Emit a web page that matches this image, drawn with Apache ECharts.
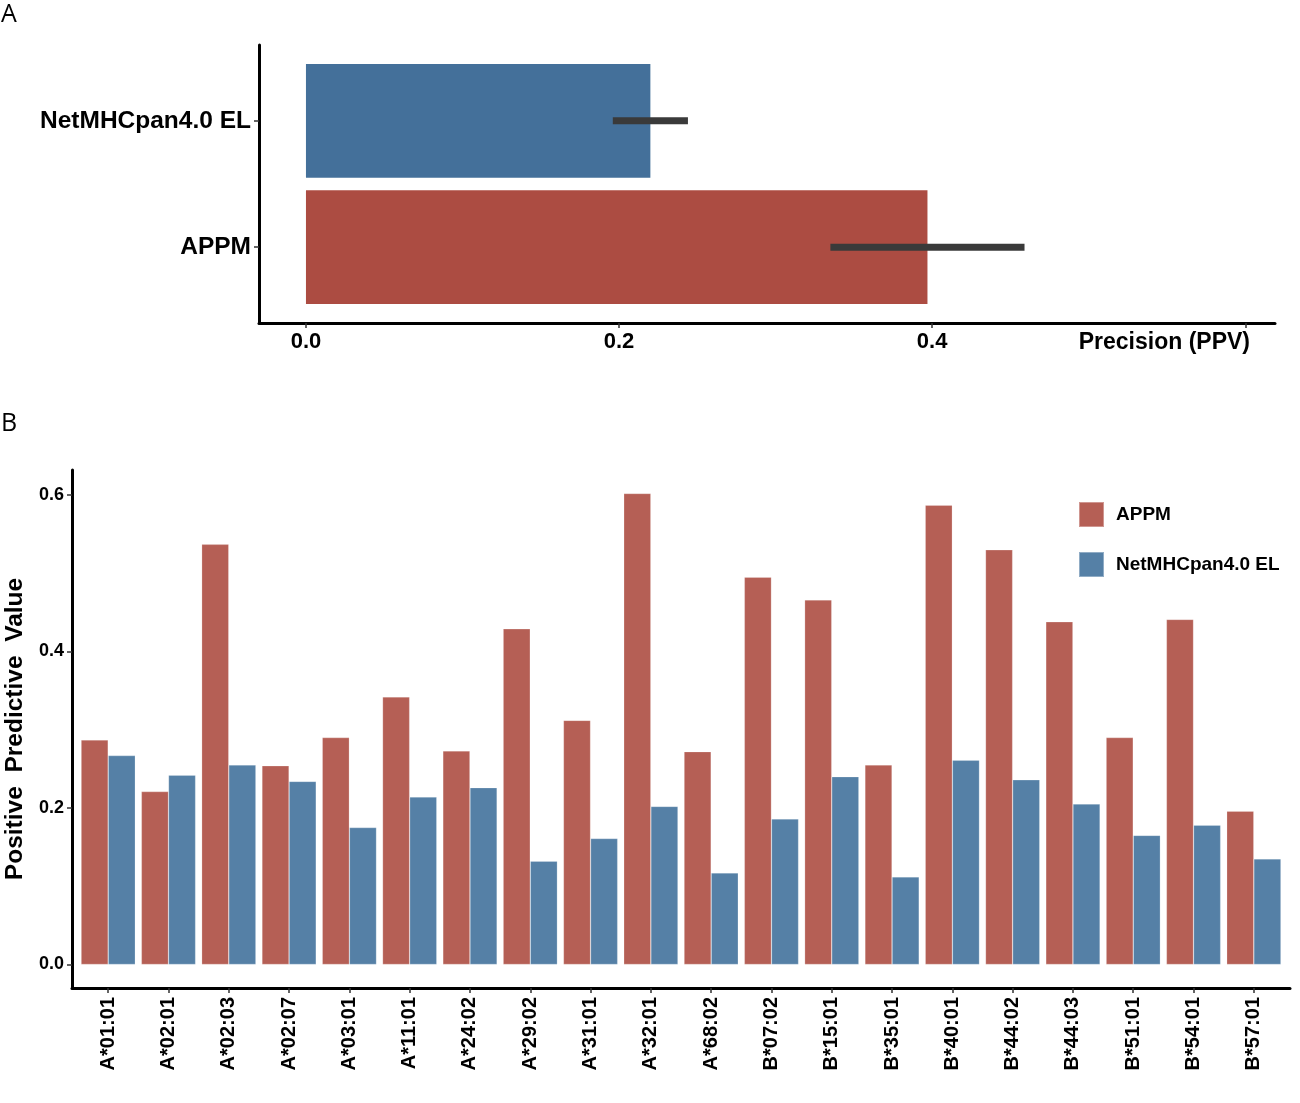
<!DOCTYPE html>
<html>
<head>
<meta charset="utf-8">
<script src="https://cdn.jsdelivr.net/npm/echarts@6/dist/echarts.min.js"></script>
<style>
html,body{margin:0;padding:0;background:#fff;}
#chart{width:1300px;height:1103px;}
</style>
</head>
<body>
<div id="chart"></div>
<script>
// ---------- Panel A data ----------
var methods = ['APPM', 'NetMHCpan4.0 EL'];
var precision = [0.397, 0.220];
var errLow = [0.335, 0.196];
var errHigh = [0.459, 0.244];
var precisionTicks = [0, 0.2, 0.4, 0.6];
var precisionLabels = [0, 0.2, 0.4];

// ---------- Panel B data ----------
var alleles = ['A*01:01','A*02:01','A*02:03','A*02:07','A*03:01','A*11:01','A*24:02','A*29:02','A*31:01','A*32:01',
               'A*68:02','B*07:02','B*15:01','B*35:01','B*40:01','B*44:02','B*44:03','B*51:01','B*54:01','B*57:01'];
var appmPPV = [0.287,0.221,0.537,0.254,0.290,0.342,0.273,0.429,0.312,0.602,
               0.272,0.495,0.466,0.255,0.587,0.530,0.438,0.290,0.441,0.196];
var netPPV  = [0.267,0.242,0.255,0.234,0.175,0.214,0.226,0.132,0.161,0.202,
               0.117,0.186,0.240,0.112,0.261,0.236,0.205,0.165,0.178,0.135];
var ppvTicks = [0, 0.2, 0.4, 0.6];

var FONT = "'Liberation Sans', Arial, Helvetica, sans-serif";
var colorsA = ['#AC4C42', '#44709A'];
var colorAPPM = '#B55F55';
var colorNet = '#5580A6';
var axisLineStyle = {show: true, onZero: false, lineStyle: {color: '#000', width: 3}};
var tickStyle = {color: '#333', width: 1.5};

var methodPos = methods.map(function (m, i) { return i + 1; });
var allelePos = alleles.map(function (a, i) { return i + 1; });

var chart = echarts.init(document.getElementById('chart'), null, {renderer: 'canvas'});
var option = {
  animation: false,
  backgroundColor: '#fff',
  title: [
    {text: 'A', left: 0, top: 2, padding: [0, 0, 0, 1], textStyle: {fontFamily: "'Open Sans', 'DejaVu Sans', sans-serif", fontWeight: 'normal', fontSize: 25, color: '#000'}},
    {text: 'B', left: 0, top: 411, padding: [0, 0, 0, 1], textStyle: {fontFamily: "'Open Sans', 'DejaVu Sans', sans-serif", fontWeight: 'normal', fontSize: 25, color: '#000'}}
  ],
  grid: [
    {left: 259, top: 45, width: 1016, height: 278, outerBoundsMode: 'none', containLabel: false},
    {left: 72, top: 470, width: 1218, height: 518, outerBoundsMode: 'none', containLabel: false}
  ],
  legend: {
    orient: 'vertical', left: 1078, top: 501, padding: 0,
    itemWidth: 25, itemHeight: 25, itemGap: 23,
    icon: 'rect',
    data: ['APPM', 'NetMHCpan4.0 EL'],
    textStyle: {fontFamily: FONT, fontWeight: 'bold', fontSize: 19, color: '#000', padding: [0, 0, 0, 7]}
  },
  xAxis: [
    {
      gridIndex: 0, type: 'value', min: -0.030, max: 0.619,
      axisLine: axisLineStyle,
      axisTick: {show: true, length: 5, customValues: precisionTicks, lineStyle: tickStyle},
      axisLabel: {customValues: precisionLabels, margin: 8, fontFamily: FONT, fontWeight: 'bold', fontSize: 22, color: '#000',
                  formatter: function (v) { return v.toFixed(1); }},
      splitLine: {show: false},
      name: 'Precision (PPV)', nameLocation: 'end', nameGap: -25, nameMoveOverlap: false,
      nameTextStyle: {fontFamily: FONT, fontWeight: 'bold', fontSize: 23, color: '#000', align: 'right', verticalAlign: 'top', padding: [8, 0, 0, 0]}
    },
    {
      gridIndex: 1, type: 'value', min: 0.4, max: 20.6,
      axisLine: axisLineStyle,
      axisTick: {show: true, length: 5, customValues: allelePos, lineStyle: tickStyle},
      axisLabel: {customValues: allelePos, rotate: 90, margin: 9, fontFamily: FONT, fontWeight: 'bold', fontSize: 20, color: '#000',
                  formatter: function (v) { return alleles[Math.round(v) - 1]; }},
      splitLine: {show: false}
    }
  ],
  yAxis: [
    {
      gridIndex: 0, type: 'value', min: 0.4, max: 2.6,
      axisLine: axisLineStyle,
      axisTick: {show: true, length: 5, customValues: methodPos, lineStyle: tickStyle},
      axisLabel: {customValues: methodPos, margin: 8, fontFamily: FONT, fontWeight: 'bold', fontSize: 24.5, color: '#000',
                  formatter: function (v) { return methods[Math.round(v) - 1]; }},
      splitLine: {show: false}
    },
    {
      gridIndex: 1, type: 'value', min: -0.0301, max: 0.632,
      axisLine: axisLineStyle,
      axisTick: {show: true, length: 5, customValues: ppvTicks, lineStyle: tickStyle},
      axisLabel: {customValues: ppvTicks, margin: 8, fontFamily: FONT, fontWeight: 'bold', fontSize: 18, color: '#000',
                  formatter: function (v) { return v.toFixed(1); }},
      splitLine: {show: false},
      name: 'Positive  Predictive  Value', nameLocation: 'middle', nameGap: 44, nameRotate: 90, nameMoveOverlap: false,
      nameTextStyle: {fontFamily: FONT, fontWeight: 'bold', fontSize: 24.5, color: '#000'}
    }
  ],
  series: [
    {
      name: 'Mean precision', type: 'custom', xAxisIndex: 0, yAxisIndex: 0, z: 2,
      encode: {x: 0, y: 1},
      data: precision.map(function (v, i) { return [v, methodPos[i]]; }),
      renderItem: function (params, api) {
        var base = api.coord([0, api.value(1)]);
        var end = api.coord([api.value(0), api.value(1)]);
        var h = api.size([0, 1])[1] * 0.9;
        return {type: 'rect', shape: {x: base[0], y: base[1] - h / 2, width: end[0] - base[0], height: h},
                style: {fill: colorsA[params.dataIndex]}};
      }
    },
    {
      name: 'Precision range', type: 'custom', xAxisIndex: 0, yAxisIndex: 0, z: 5,
      encode: {x: [0, 1], y: 2},
      data: methods.map(function (m, i) { return [errLow[i], errHigh[i], methodPos[i]]; }),
      renderItem: function (params, api) {
        var lo = api.coord([api.value(0), api.value(2)]);
        var hi = api.coord([api.value(1), api.value(2)]);
        return {type: 'line', shape: {x1: lo[0], y1: lo[1], x2: hi[0], y2: hi[1]},
                style: {stroke: '#3a3a3a', lineWidth: 7}};
      }
    },
    {
      name: 'APPM', type: 'bar', xAxisIndex: 1, yAxisIndex: 1,
      barGap: '0%', barCategoryGap: '10%',
      itemStyle: {color: colorAPPM, borderColor: 'rgba(255,255,255,0.35)', borderWidth: 0.6},
      data: appmPPV.map(function (v, i) { return [allelePos[i], v]; })
    },
    {
      name: 'NetMHCpan4.0 EL', type: 'bar', xAxisIndex: 1, yAxisIndex: 1,
      barGap: '0%', barCategoryGap: '10%',
      itemStyle: {color: colorNet, borderColor: 'rgba(255,255,255,0.35)', borderWidth: 0.6},
      data: netPPV.map(function (v, i) { return [allelePos[i], v]; })
    }
  ]
};
chart.setOption(option);
</script>
</body>
</html>
